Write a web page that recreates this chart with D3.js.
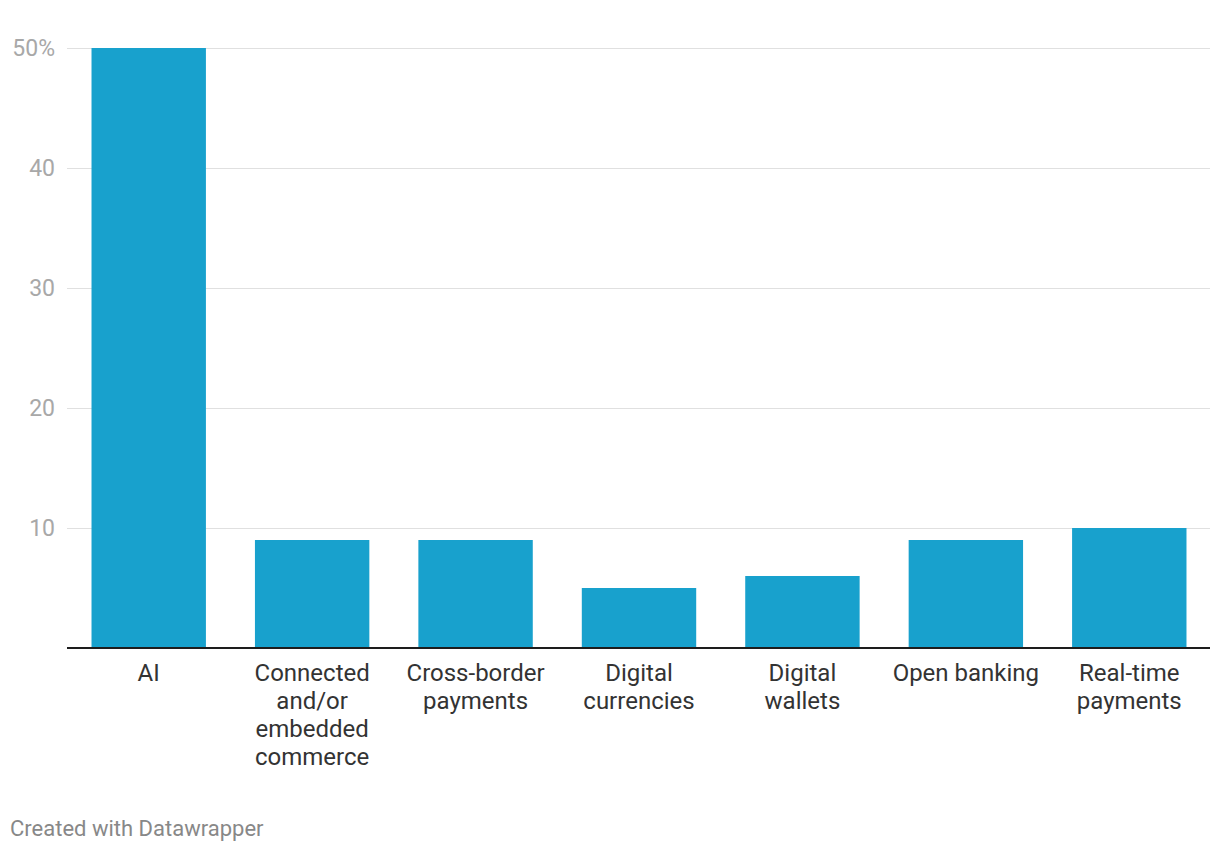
<!DOCTYPE html>
<html>
<head>
<meta charset="utf-8">
<script src="https://cdn.jsdelivr.net/npm/d3@7"></script>
<style>
  html, body { margin: 0; padding: 0; background: #fff; }
  svg { display: block; font-family: Roboto, sans-serif; }
</style>
</head>
<body>
<svg id="chart" width="1220" height="852"></svg>
<script>
// data
const categories = ["AI", "Connected and/or embedded commerce", "Cross-border payments",
  "Digital currencies", "Digital wallets", "Open banking", "Real-time payments"];
const labelLines = [["AI"], ["Connected", "and/or", "embedded", "commerce"], ["Cross-border", "payments"],
  ["Digital", "currencies"], ["Digital", "wallets"], ["Open banking"], ["Real-time", "payments"]];
const values = [50, 9, 9, 5, 6, 9, 10];
const yTicks = [10, 20, 30, 40, 50];

const svg = d3.select("#chart");
const plotLeft = 67, plotRight = 1211, plotTop = 48, plotBottom = 648;

const x = d3.scaleBand()
  .domain(categories)
  .range([plotLeft, plotRight])
  .paddingInner(0.3)
  .paddingOuter(0.15);

const y = d3.scaleLinear().domain([0, 50]).range([plotBottom, plotTop]);

// gridlines
svg.append("g").selectAll("line")
  .data(yTicks)
  .join("line")
  .attr("x1", plotLeft).attr("x2", plotRight - 1)
  .attr("y1", d => Math.round(y(d)) + 0.5).attr("y2", d => Math.round(y(d)) + 0.5)
  .attr("stroke", "#e0e0e0").attr("stroke-width", 1);

// y labels
svg.append("g").selectAll("text")
  .data(yTicks)
  .join("text")
  .attr("x", 55)
  .attr("y", d => y(d) + 8)
  .attr("text-anchor", "end")
  .attr("fill", "#a8a8a8")
  .style("font-size", "23px")
  .text(d => d === 50 ? d + "%" : d);

// bars
svg.append("g").selectAll("rect")
  .data(values)
  .join("rect")
  .attr("x", (d, i) => x(categories[i]))
  .attr("width", x.bandwidth())
  .attr("y", d => y(d))
  .attr("height", d => plotBottom - y(d))
  .attr("fill", "#18a1cd");

// baseline
svg.append("line")
  .attr("x1", plotLeft).attr("x2", plotRight - 1)
  .attr("y1", plotBottom).attr("y2", plotBottom)
  .attr("stroke", "#1d1d1d").attr("stroke-width", 2);

// category labels
const lbl = svg.append("g").selectAll("text")
  .data(labelLines)
  .join("text")
  .attr("text-anchor", "middle")
  .attr("fill", "#333")
  .style("font-size", "24px");
lbl.each(function(lines, i) {
  const cx = x(categories[i]) + x.bandwidth() / 2;
  d3.select(this).selectAll("tspan")
    .data(lines)
    .join("tspan")
    .attr("x", cx)
    .attr("y", (d, j) => 681 + j * 28)
    .text(d => d);
});

// footer
svg.append("text")
  .attr("x", 10).attr("y", 836)
  .attr("fill", "#888")
  .style("font-size", "22px")
  .text("Created with Datawrapper");
</script>
</body>
</html>
